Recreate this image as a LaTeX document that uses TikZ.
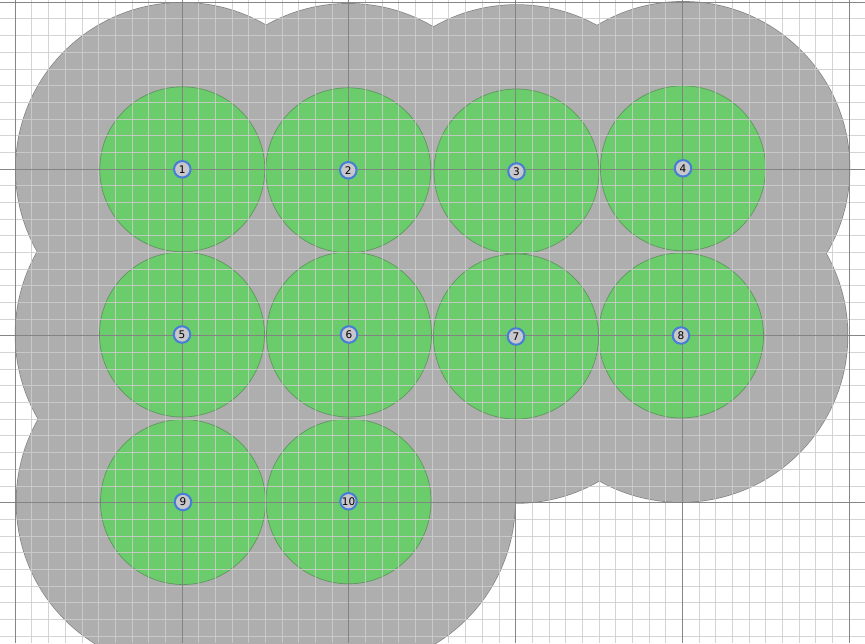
\documentclass[tikz,border=0pt]{standalone}
\usepackage{fontspec}
\setmainfont{DejaVu Sans}
\definecolor{zonegray}{RGB}{174,174,174}
\definecolor{zoneedge}{RGB}{130,130,130}
\definecolor{coregreen}{RGB}{106,204,106}
\definecolor{coreedge}{RGB}{95,150,95}
\definecolor{minorc}{RGB}{205,205,205}
\definecolor{majorc}{RGB}{115,115,115}
\definecolor{nodefill}{RGB}{200,200,204}
\definecolor{nodering}{RGB}{70,125,215}
\begin{document}
\begin{tikzpicture}[x=1pt,y=-1pt,
  minorgrid/.style={draw=minorc,line width=1pt,opacity=0.85},
  majorgrid/.style={draw=majorc,line width=1pt,opacity=0.8},
  zoneedgestyle/.style={draw=zoneedge,line width=1.4pt},
  zonefill/.style={fill=zonegray},
  corestyle/.style={fill=coregreen,draw=coreedge,line width=0.7pt},
  pt/.style={circle,fill=nodefill,draw=nodering,line width=2pt,minimum size=16.5pt,inner sep=0pt,font=\fontsize{10.5}{11}\selectfont}]
\useasboundingbox (0,0) rectangle (865,643);
\fill[white] (0,0) rectangle (865,643);
\clip (0,0) rectangle (865,643);
\coordinate (c1) at (182.3,169.3);
\coordinate (c2) at (348.3,170.3);
\coordinate (c3) at (516.5,171.5);
\coordinate (c4) at (683,168.3);
\coordinate (c5) at (182,334.5);
\coordinate (c6) at (349,334.5);
\coordinate (c7) at (516,336.5);
\coordinate (c8) at (681,335.5);
\coordinate (c9) at (183,502);
\coordinate (c10) at (348.5,501.3);
% union of coverage zones
\foreach \k in {1,...,10} {\draw[zoneedgestyle] (c\k) circle[radius=166.5];}
\foreach \k in {1,...,10} {\fill[zonefill] (c\k) circle[radius=166.5];}
% core circles
\foreach \k in {1,...,10} {\filldraw[corestyle] (c\k) circle[radius=82.5];}
% grid
\foreach \i in {-1,...,51} {\draw[minorgrid] ({15.3+\i*16.68},0) -- ({15.3+\i*16.68},643);}
\foreach \j in {0,...,38} {\draw[minorgrid] (0,{2.3+\j*16.68}) -- (865,{2.3+\j*16.68});}
\foreach \i in {0,...,5} {\draw[majorgrid] ({15.3+\i*166.8},0) -- ({15.3+\i*166.8},643);}
\foreach \j in {0,...,3} {\draw[majorgrid] (0,{2.3+\j*166.8}) -- (865,{2.3+\j*166.8});}
% points
\foreach \k in {1,...,10} {\node[pt] (n\k) at (c\k) {\k};}
\end{tikzpicture}
\end{document}
